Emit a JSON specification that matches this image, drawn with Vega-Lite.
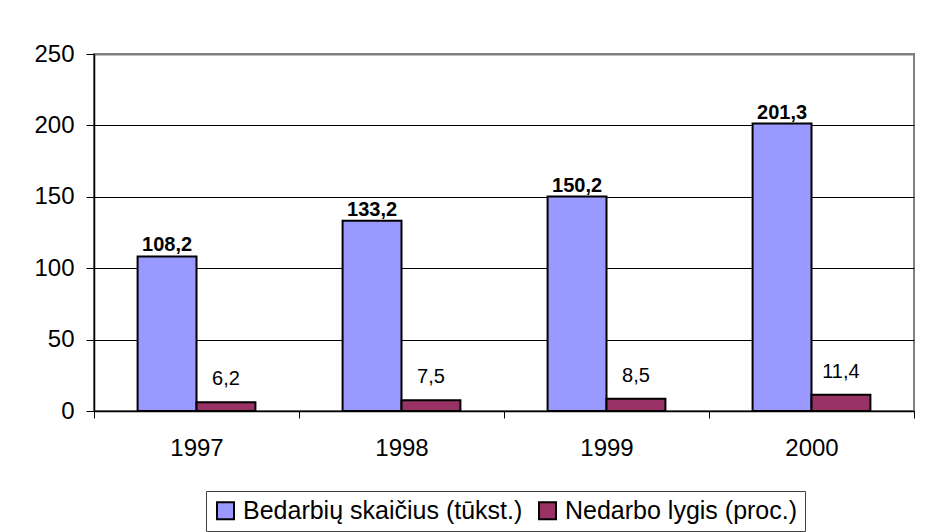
{
  "$schema": "https://vega.github.io/schema/vega-lite/v6.json",
  "width": 820,
  "height": 357,
  "autosize": {"type": "none"},
  "padding": {"left": 94, "top": 54, "right": 11, "bottom": 121},
  "background": "white",
  "data": {
    "values": [
      {"year": "1997", "series": "Bedarbių skaičius (tūkst.)", "value": 108.2, "label": "108,2"},
      {"year": "1997", "series": "Nedarbo lygis (proc.)", "value": 6.2, "label": "6,2"},
      {"year": "1998", "series": "Bedarbių skaičius (tūkst.)", "value": 133.2, "label": "133,2"},
      {"year": "1998", "series": "Nedarbo lygis (proc.)", "value": 7.5, "label": "7,5"},
      {"year": "1999", "series": "Bedarbių skaičius (tūkst.)", "value": 150.2, "label": "150,2"},
      {"year": "1999", "series": "Nedarbo lygis (proc.)", "value": 8.5, "label": "8,5"},
      {"year": "2000", "series": "Bedarbių skaičius (tūkst.)", "value": 201.3, "label": "201,3"},
      {"year": "2000", "series": "Nedarbo lygis (proc.)", "value": 11.4, "label": "11,4"}
    ]
  },
  "encoding": {
    "x": {
      "field": "year",
      "type": "nominal",
      "scale": {"paddingInner": 0, "paddingOuter": 0},
      "axis": {
        "title": null,
        "labelAngle": 0,
        "tickBand": "extent",
        "tickSize": 7,
        "tickColor": "black",
        "domainColor": "black",
        "domainWidth": 1.5,
        "labelFontSize": 24,
        "labelPadding": 18,
        "labelColor": "black",
        "labelFont": "Liberation Sans"
      }
    },
    "xOffset": {
      "field": "series",
      "type": "nominal",
      "scale": {"domain": ["Bedarbių skaičius (tūkst.)", "Nedarbo lygis (proc.)"], "paddingInner": 0, "paddingOuter": 0.74}
    },
    "y": {
      "field": "value",
      "type": "quantitative",
      "scale": {"domain": [0, 250], "nice": false},
      "axis": {
        "title": null,
        "values": [0, 50, 100, 150, 200, 250],
        "grid": true,
        "gridColor": {"condition": {"test": "datum.value === 250", "value": "#808080"}, "value": "#000000"},
        "gridWidth": {"condition": {"test": "datum.value === 250", "value": 2}, "value": 1},
        "tickSize": 8,
        "tickColor": "black",
        "domainColor": "black",
        "domainWidth": 1.5,
        "labelFontSize": 24,
        "labelPadding": 12,
        "labelColor": "black",
        "labelFont": "Liberation Sans"
      }
    }
  },
  "layer": [
    {
      "mark": {"type": "bar", "stroke": "black", "strokeWidth": 2},
      "encoding": {
        "color": {
          "field": "series",
          "type": "nominal",
          "scale": {"domain": ["Bedarbių skaičius (tūkst.)", "Nedarbo lygis (proc.)"], "range": ["#9999FF", "#993366"]},
          "legend": {
            "title": null,
            "orient": "none",
            "legendX": 112,
            "legendY": 437,
            "direction": "horizontal",
            "symbolType": "square",
            "symbolSize": 289,
            "symbolStrokeWidth": 2,
            "symbolStrokeColor": "black",
            "labelFontSize": 25,
            "labelFont": "Liberation Sans",
            "labelColor": "black",
            "labelLimit": 0,
            "labelOffset": 5,
            "columnPadding": 12,
            "padding": 7,
            "strokeColor": "#404040",
            "fillColor": "white"
          }
        }
      }
    },
    {
      "transform": [{"filter": "datum.series === 'Bedarbių skaičius (tūkst.)'"}],
      "mark": {"type": "text", "baseline": "alphabetic", "dy": -5, "fontWeight": "bold", "fontSize": 20, "font": "Liberation Sans", "color": "black"},
      "encoding": {"text": {"field": "label"}}
    },
    {
      "transform": [{"filter": "datum.series === 'Nedarbo lygis (proc.)'"}],
      "mark": {"type": "text", "baseline": "alphabetic", "dy": -17, "fontSize": 20, "font": "Liberation Sans", "color": "black"},
      "encoding": {"text": {"field": "label"}}
    }
  ],
  "config": {
    "view": {"stroke": "#808080", "strokeWidth": 2},
    "font": "Liberation Sans"
  }
}
